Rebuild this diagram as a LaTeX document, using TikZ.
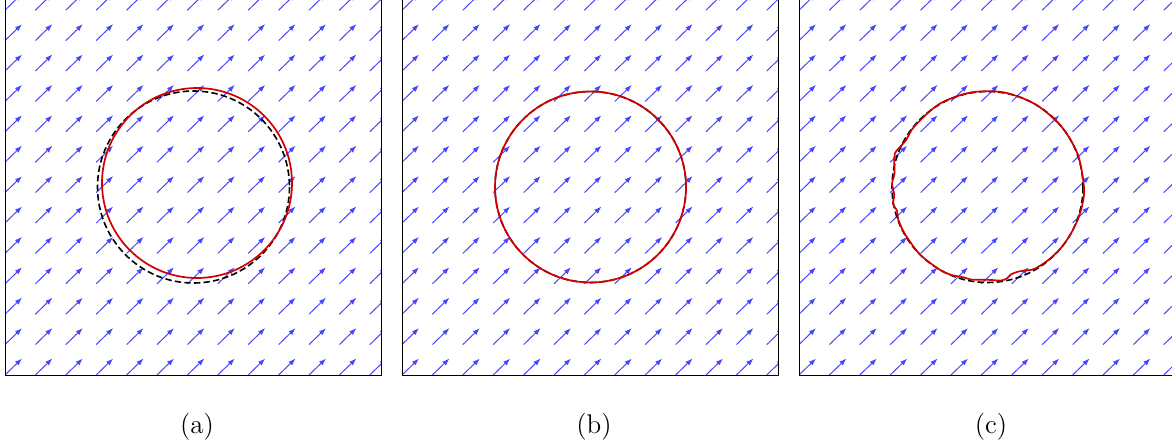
\documentclass[tikz,border=0pt]{standalone}
\usepackage{tikz}
\usetikzlibrary{arrows.meta,calc}
\definecolor{flow}{RGB}{70,70,255}
\definecolor{front}{RGB}{210,0,0}

\begin{document}
\begin{tikzpicture}[
  x=0.5pt,y=-0.5pt,
  frame/.style={draw=black,line width=0.5pt},
  vec/.style={-{Latex[length=3.6pt,width=2.6pt]},draw=flow,line width=0.5pt},
  exact/.style={draw=black,dash pattern=on 3.2pt off 1.6pt,line width=0.8pt},
  numer/.style={draw=front,line width=0.85pt},
  caption/.style={font=\fontsize{13.5}{16}\selectfont,inner sep=0pt},
]
\useasboundingbox (0,0) rectangle (1172,444);

% three panels with the velocity field
\foreach \k/\p in {0/a,1/b,2/c} {
  \begin{scope}[shift={({397*\k},0)}]
    \coordinate (sw-\p) at (5,375);
    \coordinate (ne-\p) at (381,-2);
    \coordinate (ctr-\p) at (193.5,187);
    \node[caption] (lbl-\p) at (197,427) {(\p)};
    \begin{scope}
      \clip (sw-\p) rectangle (ne-\p);
      \foreach \i in {0,...,12}
        \foreach \j in {0,...,12}
          \draw[vec] ($(sw-\p)+(30.4*\i,-30.4*\j)$) -- ++(17,-16.5);
    \end{scope}
    \draw[frame] (sw-\p) rectangle (ne-\p);
  \end{scope}
}

% (a)
\draw[exact] (ctr-a) circle[radius=96];
\draw[numer] ($(ctr-a)+(3.5,-4)$) circle[radius=95];

% (b)
\draw[exact] (ctr-b) circle[radius=95.5];
\draw[numer] (ctr-b) circle[radius=95.5];

% (c)
\draw[exact] (ctr-c) circle[radius=95.5];
\draw[numer,shift={(ctr-c)}] plot[smooth cycle] coordinates {
  (0:96.5) (10:96.5) (20:96) (30:95.5) (40:95.5) (50:95) (60:94.5)
  (65:92) (70:90) (75:90.5) (78:93.5) (82:94.5) (88:93) (95:93)
  (100:94) (105:93.5) (112:95) (120:95.5) (135:95.5) (150:95) (160:95)
  (165:93.5) (170:96) (175:93.5) (182:95.5) (188:94) (195:96.5) (200:98.5)
  (205:96) (210:94) (220:95) (240:96) (260:96) (280:96) (300:95.5)
  (320:95.5) (340:96)};
\end{tikzpicture}
\end{document}
